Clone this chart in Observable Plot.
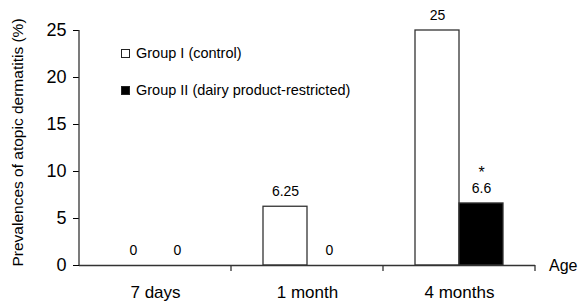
<!DOCTYPE html>
<html><head><meta charset="utf-8">
<script src="https://cdn.jsdelivr.net/npm/d3@7"></script>
<script src="https://cdn.jsdelivr.net/npm/@observablehq/plot@0.6"></script>
<style>
body{margin:0;background:#fff;font-family:"Liberation Sans",Arial,sans-serif;}
#wrap{position:relative;width:579px;height:301px;}
.leg{position:absolute;font-size:14.5px;color:#000;display:flex;align-items:center;white-space:nowrap;}
.sw{width:7px;height:7px;border:1px solid #222;margin-right:6px;}
</style></head><body>
<div id="wrap"></div>
<script>
const ages = ["7 days", "1 month", "4 months"];
const groups = ["Group I (control)", "Group II (dairy product-restricted)"];
const groupI = [0, 6.25, 25];
const groupII = [0, 0, 6.6];
const labelsI = ["0", "6.25", "25"];
const labelsII = ["0", "0", "6.6"];
const significance = ["", "", "*"]; // Group II markers
const yTicks = [0, 5, 10, 15, 20, 25];
const yTitle = "Prevalences of atopic dermatitis (%)";
const xTitle = "Age";

const data = [];
ages.forEach((a, i) => {
  data.push({age: a, group: groups[0], value: groupI[i], label: labelsI[i], star: ""});
  data.push({age: a, group: groups[1], value: groupII[i], label: labelsII[i], star: significance[i]});
});

const chart = Plot.plot({
  width: 579, height: 301,
  marginLeft: 78, marginRight: 44, marginTop: 30, marginBottom: 36,
  style: {fontFamily: "Liberation Sans, Arial, sans-serif", background: "#fff", color: "#000"},
  fx: {domain: ages, padding: 0, label: null, tickSize: 0, tickPadding: 20},
  x: {domain: groups, paddingInner: 0, paddingOuter: 0.727, axis: null},
  y: {domain: [0, 25], ticks: yTicks, tickSize: 6, tickPadding: 7, label: null},
  color: {domain: groups, range: ["#fff", "#000"]},
  marks: [
    Plot.barY(data.filter(d => d.value > 0), {fx: "age", x: "group", y: "value", fill: "group", stroke: "#333", strokeWidth: 1.3}),
    Plot.ruleY([0], {stroke: "#333", strokeWidth: 1.3}),
    Plot.text(data, {fx: "age", x: "group", y: "value", text: "label", dy: -15, fontSize: 14, fill: "#000"}),
    Plot.text(data.filter(d => d.star), {fx: "age", x: "group", y: "value", text: "star", dy: -31, fontSize: 16, fill: "#000"})
  ]
});

const svg = d3.select(chart);
svg.selectAll("g[aria-label^='y-axis']").attr("font-size", 18).style("font-size", "18px");
svg.selectAll("g[aria-label^='fx-axis']").attr("font-size", 17).style("font-size", "17px");

const fx = chart.scale("fx"), y = chart.scale("y");
const y0 = y.apply(0), yTop = y.apply(25);
const xL = fx.apply(ages[0]);
const bw = fx.bandwidth;
const g = svg.append("g").attr("stroke", "#333").attr("stroke-width", 1.3);
g.append("line").attr("x1", xL).attr("x2", xL).attr("y1", yTop).attr("y2", y0);
ages.forEach(a => {
  const xr = fx.apply(a) + bw;
  g.append("line").attr("x1", xr).attr("x2", xr).attr("y1", y0).attr("y2", y0 + 6);
});
svg.append("text").attr("x", fx.apply(ages[2]) + bw + 14).attr("y", y0).attr("dy", "0.35em")
  .attr("text-anchor", "start").attr("font-size", 16).attr("fill", "#000").text(xTitle);
svg.append("text").attr("transform", `translate(18,${(y0 + yTop) / 2 - 5}) rotate(-90)`)
  .attr("text-anchor", "middle").attr("dy", "0.35em").attr("font-size", 15.5).attr("fill", "#000").text(yTitle);

const wrap = document.getElementById("wrap");
wrap.appendChild(chart);
const fills = ["#fff", "#000"];
const tops = [53, 90];
groups.forEach((gname, i) => {
  const div = document.createElement("div");
  div.className = "leg";
  div.style.left = "121px";
  div.style.top = (tops[i] - 9) + "px";
  div.style.height = "18px";
  const sw = document.createElement("span");
  sw.className = "sw"; sw.style.background = fills[i];
  div.appendChild(sw);
  div.appendChild(document.createTextNode(gname));
  wrap.appendChild(div);
});
</script></body></html>
